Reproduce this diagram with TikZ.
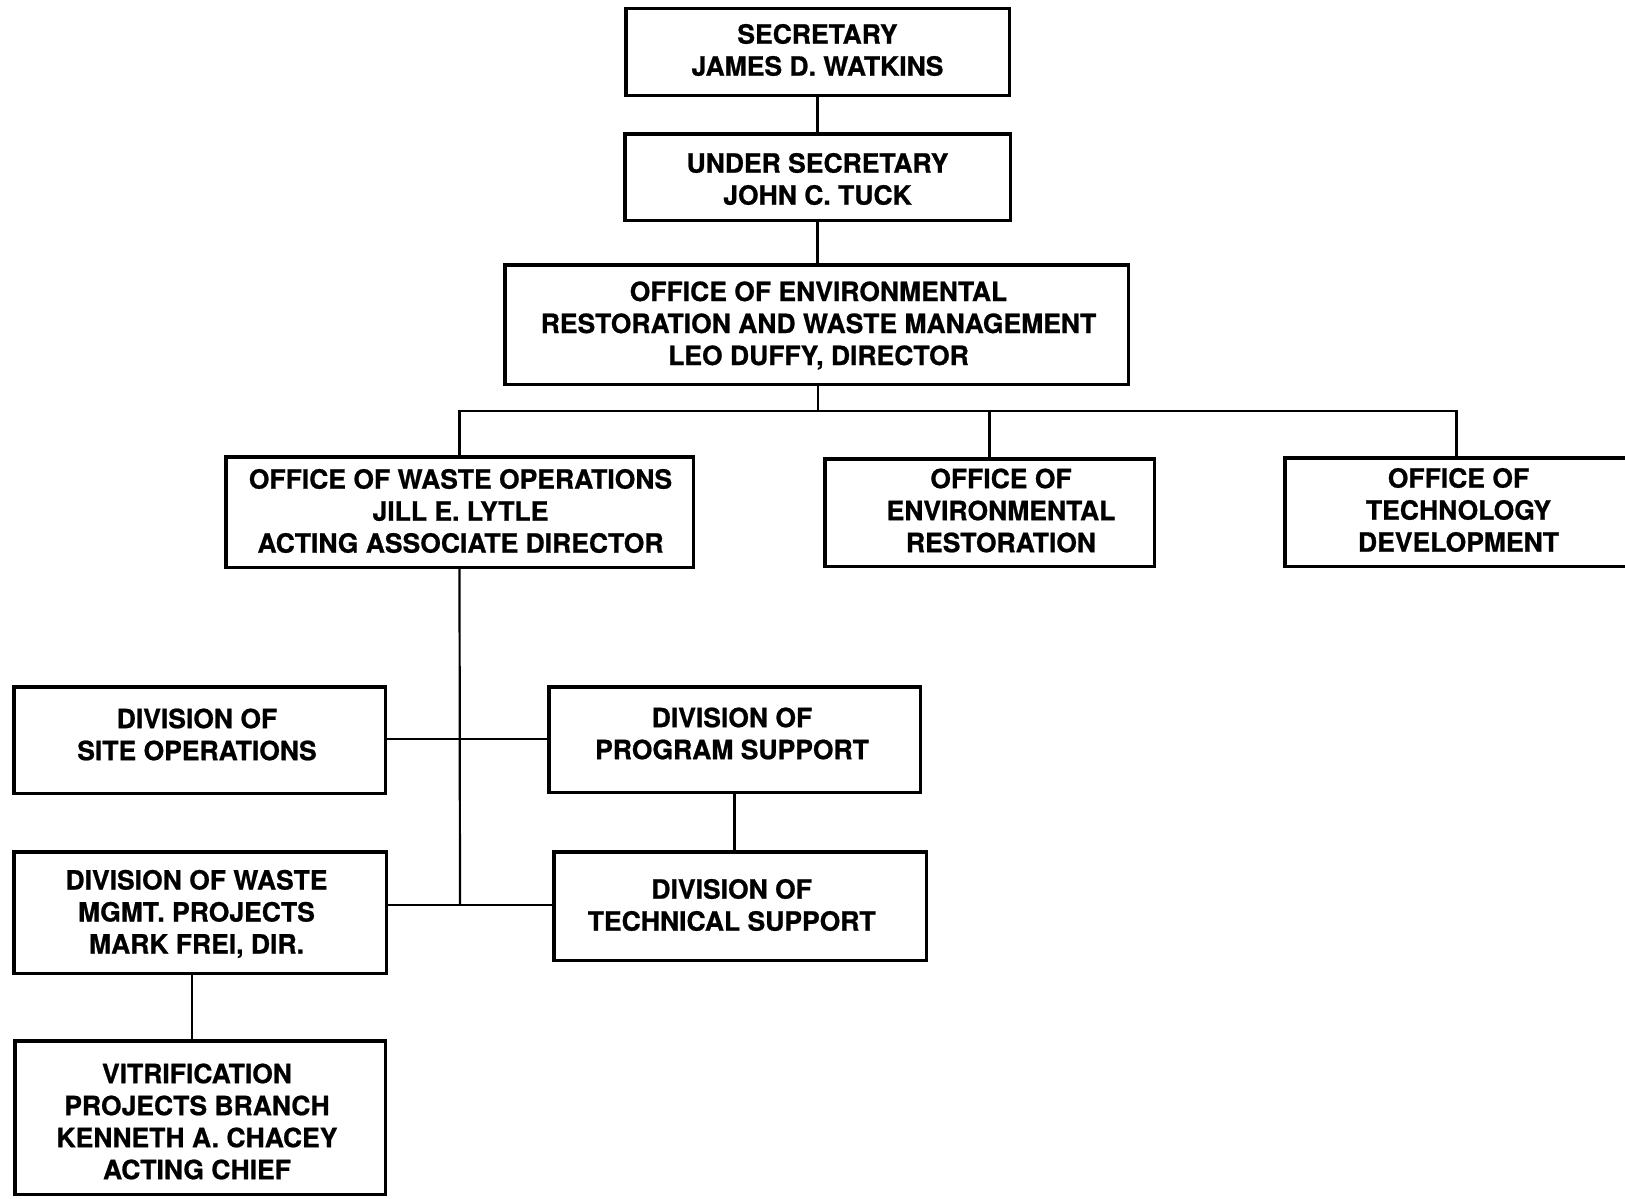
\documentclass[tikz,border=0pt]{standalone}
\usepackage{fontspec}
\setmainfont{TeX Gyre Heros}[BoldFeatures={FakeBold=0.8}]
\begin{document}
\begin{tikzpicture}[x=1pt,y=-1pt,
  orgbox/.style={draw=black,line width=3.5pt,rectangle,inner sep=0pt},
  orgtext/.style={inner sep=0pt,align=center,
    font=\fontsize{26.5}{32}\selectfont\bfseries},
  link/.style={draw=black,line width=2.2pt}]
\useasboundingbox[fill=white] (0,0) rectangle (1625,1199);
% boxes
\node[orgbox,minimum width=383.5pt,minimum height=86.5pt] (sec) at (817.5,52) {};
\node[orgbox,minimum width=385.5pt,minimum height=86.5pt] (usec) at (817.5,177) {};
\node[orgbox,minimum width=623.5pt,minimum height=119.5pt] (erwm) at (816.5,324.5) {};
\node[orgbox,minimum width=467.5pt,minimum height=110.5pt] (wops) at (459.5,512) {};
\node[orgbox,minimum width=329.5pt,minimum height=107.5pt] (envr) at (989.5,512.5) {};
\node[orgbox,minimum width=343.5pt,minimum height=108.5pt] (tdev) at (1456.5,512) {};
\node[orgbox,minimum width=371.5pt,minimum height=106.5pt] (siteops) at (199.5,740) {};
\node[orgbox,minimum width=371.5pt,minimum height=105.5pt] (progsup) at (734.5,739.5) {};
\node[orgbox,minimum width=372.5pt,minimum height=121.5pt] (wmgmt) at (200,912.5) {};
\node[orgbox,minimum width=372.5pt,minimum height=108.5pt] (techsup) at (740,906) {};
\node[orgbox,minimum width=370.5pt,minimum height=153.5pt] (vitrif) at (200,1117.5) {};
% texts
\node[orgtext] (sec-t) at ([shift={(0,-2)}]sec.center) {SECRETARY\\JAMES D. WATKINS};
\node[orgtext] (usec-t) at ([shift={(0,2)}]usec.center) {UNDER SECRETARY\\JOHN C. TUCK};
\node[orgtext] (erwm-t) at ([shift={(2,1)}]erwm.center) {OFFICE OF ENVIRONMENTAL\\RESTORATION AND WASTE MANAGEMENT\\LEO DUFFY, DIRECTOR};
\node[orgtext] (wops-t) at ([shift={(1,-1)}]wops.center) {OFFICE OF WASTE OPERATIONS\\JILL E. LYTLE\\ACTING ASSOCIATE DIRECTOR};
\node[orgtext] (envr-t) at ([shift={(11.5,-2)}]envr.center) {OFFICE OF\\ENVIRONMENTAL\\RESTORATION};
\node[orgtext] (tdev-t) at ([shift={(2,-2)}]tdev.center) {OFFICE OF\\TECHNOLOGY\\DEVELOPMENT};
\node[orgtext] (siteops-t) at ([shift={(-2.5,-5.5)}]siteops.center) {DIVISION OF\\SITE OPERATIONS};
\node[orgtext] (progsup-t) at ([shift={(-2.5,-6)}]progsup.center) {DIVISION OF\\PROGRAM SUPPORT};
\node[orgtext] (wmgmt-t) at ([shift={(-3.5,1.5)}]wmgmt.center) {DIVISION OF WASTE\\MGMT. PROJECTS\\MARK FREI, DIR.};
\node[orgtext] (techsup-t) at ([shift={(-8.3,-1)}]techsup.center) {DIVISION OF\\TECHNICAL SUPPORT};
\node[orgtext] (vitrif-t) at ([shift={(-3,4)}]vitrif.center) {VITRIFICATION\\PROJECTS BRANCH\\KENNETH A. CHACEY\\ACTING CHIEF};
% connectors
\coordinate (bus) at (818,411);
\coordinate (ja) at (460,739);
\coordinate (jb) at (460,905);
\coordinate (vx) at (192,0);
\draw[link] (sec.south) -- (usec.north);
\draw[link] (usec.south) -- (usec.south |- erwm.north);
\draw[link] (erwm.south -| bus) -- (bus);
\draw[link] (wops.north) |- (bus) -| (tdev.north);
\draw[link] (envr.north) -- (envr.north |- bus);
\draw[link] (wops.south) -- (jb);
\draw[link] (siteops.east |- ja) -- (progsup.west |- ja);
\draw[link] (wmgmt.east |- jb) -- (techsup.west |- jb);
\draw[link] (progsup.south) -- (progsup.south |- techsup.north);
\draw[link] (wmgmt.south -| vx) -- (vitrif.north -| vx);
\end{tikzpicture}
\end{document}
